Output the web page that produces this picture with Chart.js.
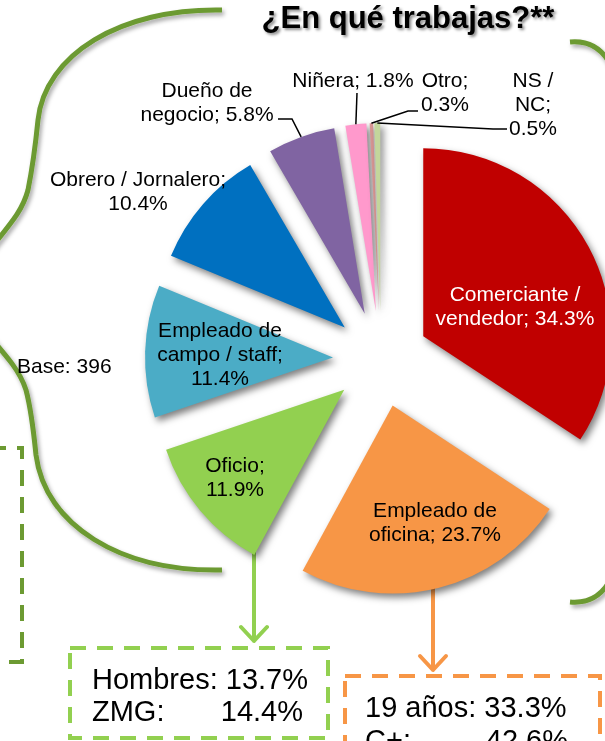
<!DOCTYPE html>
<html>
<head>
<meta charset="utf-8">
<script src="https://cdn.jsdelivr.net/npm/chart.js@4.4.0/dist/chart.umd.min.js"></script>
<style>
html, body { margin: 0; padding: 0; background: #fff; }
body { width: 605px; height: 741px; position: relative; overflow: hidden; font-family: "Liberation Sans", Arial, sans-serif; }
#deco, #pie { position: absolute; left: 0; top: 0; }
.t { position: absolute; white-space: pre; color: #000; line-height: 1; }
#title { left: 250px; width: 316px; top: 2px; text-align: center; font-size: 31px; font-weight: bold; text-shadow: 2px 2px 3px rgba(0,0,0,0.45); }
.box { font-size: 29px; display: flex; justify-content: space-between; }
</style>
</head>
<body>
<svg id="deco" width="605" height="741">
  <defs>
    <filter id="sh" x="-30%" y="-10%" width="160%" height="120%">
      <feDropShadow dx="2" dy="3" stdDeviation="2" flood-color="#000" flood-opacity="0.35"/>
    </filter>
  </defs>
  <!-- braces -->
  <g fill="none" stroke="#6C9A32" stroke-width="5" filter="url(#sh)">
    <path d="M222 10 C120 8 45 55 38 120 C35 150 32 170 28 190 C20 220 0 232 -45 296"/>
    <path d="M222 570 C120 572 45 525 36 455 C33 425 30 405 26 390 C18 365 0 350 -45 296"/>
    <path d="M570 42 C592 40 606 52 614 72"/>
    <path d="M570 602 C592 604 606 592 614 572"/>
  </g>
  <!-- dashed boxes -->
  <g fill="none" stroke-width="4" stroke-dasharray="16 11">
    <path d="M-10 448 H22 V662 H-10" stroke="#6C9A32"/>
    <rect x="70" y="648" width="258" height="90" stroke="#92D050"/>
    <rect x="345" y="676" width="255" height="120" stroke="#F79646"/>
  </g>
  <!-- arrows -->
  <g fill="none" stroke-width="4" stroke-linecap="round" stroke-linejoin="round">
    <path d="M254 552 V641 M241 627 L254 641 L267 627" stroke="#92D050"/>
    <path d="M433 585 V670 M420 656 L433 670 L446 656" stroke="#F79646"/>
  </g>
</svg>
<canvas id="pie" width="605" height="741"></canvas>

<div class="t" id="title">¿En qué trabajas?**</div>
<div class="t" style="left:17px; top:355px; font-size:21px;">Base: 396</div>
<div class="t box" style="left:92px; top:665px; width:211px;"><span>Hombres: 13.7%</span></div>
<div class="t box" style="left:92px; top:697px; width:211px;"><span>ZMG:</span><span>14.4%</span></div>
<div class="t box" style="left:365px; top:693px; width:203px;"><span>19 años: 33.3%</span></div>
<div class="t box" style="left:365px; top:726px; width:203px;"><span>C+:</span><span>42.6%</span></div>

<script>
// data
const categories = ['Comerciante / vendedor', 'Empleado de oficina', 'Oficio', 'Empleado de campo / staff',
  'Obrero / Jornalero', 'Dueño de negocio', 'Niñera', 'Otro', 'NS / NC'];
const shares = [34.3, 23.7, 11.9, 11.4, 10.4, 5.8, 1.8, 0.3, 0.5];

const sliceColors = ['#C00000', '#F79646', '#92D050', '#4BACC6', '#0070C0', '#8064A2', '#FF99CC', '#D99694', '#C3D69B'];

// label placement (x centre, first baseline, wrap width, leader elbow points)
const labelPlace = [
  { x: 515, y: 301, w: 165, color: '#fff' },
  { x: 435, y: 517, w: 135 },
  { x: 235, y: 472, w: 80 },
  { x: 220, y: 337, w: 130 },
  { x: 138, y: 186, w: 180 },
  { x: 207, y: 97, w: 140, leader: [[292, 119], [278, 119]] },
  { x: 353, y: 87, w: 200, leader: [[357, 93]] },
  { x: 445, y: 87, w: 60, leader: [[408, 111], [418, 111]] },
  { x: 533, y: 87, w: 50, leader: [[493, 129], [507, 129]] },
];

const EXPLODE = 48;
const LABEL_FONT = '21px "Liberation Sans", Arial, sans-serif';
const LINE_H = 24;

function wrap(ctx, text, maxW) {
  const words = text.split(' ');
  const lines = [];
  let cur = '';
  words.forEach(w => {
    const test = cur ? cur + ' ' + w : w;
    if (cur && ctx.measureText(test).width > maxW) {
      lines.push(cur);
      cur = w;
    } else {
      cur = test;
    }
  });
  if (cur) lines.push(cur);
  return lines;
}

const pieDecor = {
  id: 'pieDecor',
  beforeDatasetsDraw(chart) {
    const ca = chart.chartArea;
    const cx = (ca.left + ca.right) / 2;
    const cy = (ca.top + ca.bottom) / 2;
    // explode every slice the same distance from the centre
    chart.getDatasetMeta(0).data.forEach(arc => {
      const mid = (arc.startAngle + arc.endAngle) / 2;
      arc.x = cx + EXPLODE * Math.cos(mid);
      arc.y = cy + EXPLODE * Math.sin(mid);
    });
    const ctx = chart.ctx;
    ctx.save();
    ctx.shadowColor = 'rgba(0,0,0,0.5)';
    ctx.shadowBlur = 7;
    ctx.shadowOffsetX = 3;
    ctx.shadowOffsetY = 4;
  },
  afterDatasetsDraw(chart) {
    const ctx = chart.ctx;
    ctx.restore();
    const arcs = chart.getDatasetMeta(0).data;
    ctx.save();
    ctx.font = LABEL_FONT;
    ctx.textAlign = 'center';
    ctx.textBaseline = 'alphabetic';
    arcs.forEach((arc, i) => {
      const p = labelPlace[i];
      const text = categories[i] + '; ' + shares[i].toFixed(1) + '%';
      const lines = wrap(ctx, text, p.w);
      ctx.fillStyle = p.color || '#000';
      lines.forEach((ln, k) => ctx.fillText(ln, p.x, p.y + k * LINE_H));
      if (p.leader) {
        const mid = (arc.startAngle + arc.endAngle) / 2;
        ctx.beginPath();
        ctx.moveTo(arc.x + arc.outerRadius * Math.cos(mid), arc.y + arc.outerRadius * Math.sin(mid));
        p.leader.forEach(pt => ctx.lineTo(pt[0], pt[1]));
        ctx.strokeStyle = '#000';
        ctx.lineWidth = 1.5;
        ctx.stroke();
      }
    });
    ctx.restore();
  }
};

new Chart(document.getElementById('pie').getContext('2d'), {
  type: 'pie',
  data: {
    labels: categories,
    datasets: [{
      data: shares,
      backgroundColor: sliceColors,
      borderWidth: 0,
      clip: false,
    }],
  },
  options: {
    responsive: false,
    animation: false,
    events: [],
    radius: 188,
    layout: { padding: { left: 157, right: 0, top: 0, bottom: 23 } },
    plugins: {
      legend: { display: false },
      tooltip: { enabled: false },
    },
  },
  plugins: [pieDecor],
});
</script>
</body>
</html>
